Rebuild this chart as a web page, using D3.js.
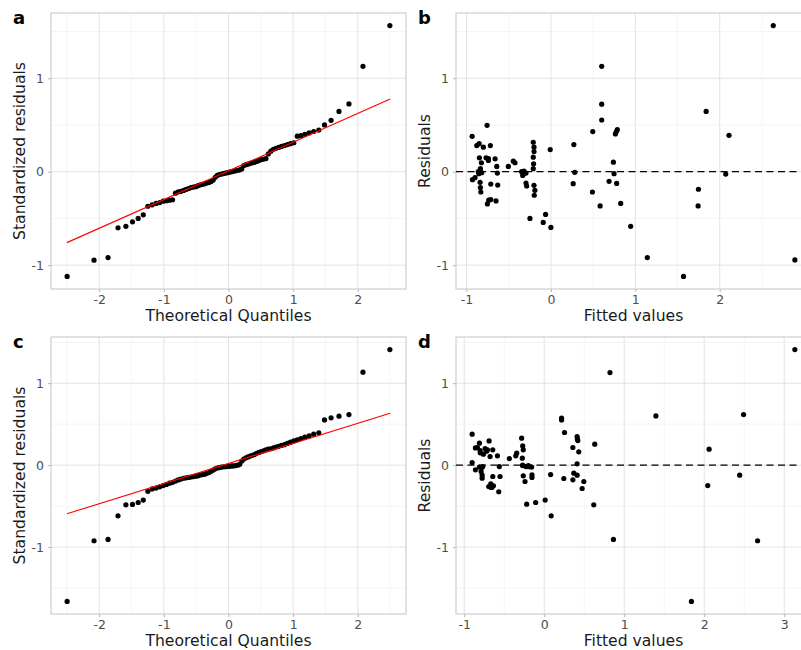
<!DOCTYPE html>
<html><head><meta charset="utf-8">
<script src="https://cdn.jsdelivr.net/npm/d3@7"></script>
<style>
html,body{margin:0;padding:0;background:#fff;overflow:hidden}
text{font-family:"DejaVu Sans",sans-serif}
</style></head>
<body><svg id="chart" width="801" height="650"></svg>
<script>
// ---------- DATA ----------
const qqX = [-2.496,-2.080,-1.863,-1.709,-1.587,-1.485,-1.397,-1.318,-1.247,-1.181,-1.120,-1.064,-1.010,-0.959,-0.911,-0.865,-0.820,-0.777,-0.735,-0.694,-0.655,-0.616,-0.579,-0.542,-0.506,-0.471,-0.436,-0.402,-0.368,-0.335,-0.302,-0.270,-0.237,-0.205,-0.174,-0.142,-0.110,-0.078,-0.047,-0.016,
0.016,0.047,0.078,0.110,0.142,0.174,0.205,0.237,0.270,0.302,0.335,0.368,0.402,0.436,0.471,0.506,0.542,0.579,0.616,0.655,0.694,0.735,0.777,0.820,0.865,0.911,0.959,1.010,1.064,1.120,1.181,1.247,1.318,1.397,1.485,1.587,1.709,1.863,2.080,2.496];

const residA = [-1.121,-0.947,-0.919,-0.60,-0.585,-0.536,-0.50,-0.462,-0.37,-0.355,
-0.34,-0.33,-0.315,-0.31,-0.305,-0.30,-0.23,-0.215,-0.21,-0.20,
-0.19,-0.18,-0.17,-0.165,-0.16,-0.15,-0.14,-0.135,-0.13,-0.12,
-0.115,-0.105,-0.09,-0.06,-0.04,-0.03,-0.025,-0.02,-0.015,-0.01,
-0.005,0.0,0.005,0.01,0.015,0.02,0.03,0.065,0.075,0.08,
0.09,0.095,0.10,0.11,0.12,0.13,0.135,0.14,0.19,0.22,
0.24,0.25,0.26,0.27,0.28,0.29,0.30,0.31,0.38,0.385,
0.40,0.415,0.43,0.445,0.50,0.55,0.645,0.725,1.128,1.564];

const lineAx = [-2.5, 2.5];
const lineAy = [-0.759, 0.777];

const residC = [-1.663,-0.923,-0.907,-0.618,-0.484,-0.48,-0.456,-0.427,-0.32,-0.29,
-0.28,-0.265,-0.25,-0.235,-0.22,-0.21,-0.195,-0.18,-0.17,-0.16,
-0.155,-0.15,-0.145,-0.14,-0.135,-0.13,-0.12,-0.115,-0.11,-0.10,
-0.09,-0.075,-0.06,-0.045,-0.035,-0.03,-0.025,-0.02,-0.02,-0.015,
-0.015,-0.01,-0.01,-0.005,0.0,0.01,0.05,0.075,0.09,0.10,
0.11,0.12,0.13,0.145,0.155,0.165,0.175,0.185,0.195,0.20,
0.21,0.22,0.23,0.24,0.25,0.265,0.28,0.295,0.31,0.325,
0.341,0.357,0.378,0.394,0.552,0.577,0.597,0.617,1.134,1.41];

const lineCx = [-2.5, 2.5];
const lineCy = [-0.594, 0.634];

const fittedB = [-0.933,-0.929,-0.898,-0.878,-0.85,-0.847,-0.854,-0.835,-0.823,-0.839,
-0.835,-0.83,-0.82,-0.80,-0.768,-0.756,-0.74,-0.717,-0.752,-0.736,
-0.712,-0.712,-0.661,-0.65,-0.641,-0.634,-0.63,-0.504,-0.445,-0.425,
-0.346,-0.334,-0.319,-0.295,-0.295,-0.287,-0.248,-0.209,-0.20,-0.20,
-0.209,-0.205,-0.209,-0.20,-0.19,-0.197,-0.091,-0.063,0.0,-0.008,
0.272,0.264,0.283,0.496,0.492,0.583,0.602,0.602,0.602,0.74,
0.748,0.689,0.764,0.787,0.776,0.779,0.827,0.945,1.142,1.571,
1.744,1.748,1.839,2.071,2.11,2.634,2.89,-0.86,-0.74,-0.32];
const residB = [0.379,-0.085,-0.064,0.28,0.30,0.149,-0.021,0.032,0.096,-0.114,
-0.17,-0.217,-0.01,0.262,0.149,0.496,0.12,0.28,-0.345,-0.305,
-0.298,-0.132,0.138,-0.313,0.056,-0.015,-0.143,0.056,0.113,0.096,
0.0,-0.04,0.006,-0.015,-0.121,-0.153,-0.50,0.315,0.262,0.216,
0.155,0.085,0.032,-0.146,-0.199,-0.252,-0.543,-0.457,-0.596,0.237,
0.29,-0.128,-0.007,0.429,-0.217,-0.366,1.128,0.723,0.553,0.102,
-0.021,-0.103,0.404,0.45,0.43,-0.125,-0.34,-0.585,-0.919,-1.121,
-0.366,-0.188,0.645,-0.025,0.389,1.564,-0.944,0.0,0.14,-0.02];

const fittedD = [-0.901,-0.901,-0.86,-0.835,-0.81,-0.801,-0.81,-0.789,-0.776,-0.776,
-0.76,-0.768,-0.739,-0.71,-0.689,-0.677,-0.693,-0.668,-0.655,-0.643,
-0.643,-0.635,-0.585,-0.568,-0.561,-0.552,-0.436,-0.356,-0.344,-0.282,
-0.269,-0.262,-0.274,-0.269,-0.262,-0.24,-0.219,-0.228,-0.199,-0.157,
-0.153,-0.153,-0.107,0.012,0.08,0.087,0.217,0.217,0.254,0.245,
0.358,0.358,0.37,0.411,0.415,0.411,0.411,0.432,0.474,0.495,
0.619,0.632,0.822,0.865,1.396,1.84,2.044,2.061,2.443,2.492,2.667,3.133,
-0.78,-0.67,-0.80,-0.27,-0.19,-0.72,0.42,-0.86];
const residD = [0.378,0.032,-0.057,0.215,0.268,0.178,-0.024,-0.078,-0.122,-0.159,
0.134,-0.017,0.202,0.187,0.296,0.105,-0.261,-0.228,-0.273,0.187,
-0.139,-0.252,0.113,-0.325,-0.017,-0.139,0.08,0.113,0.146,0.329,
0.235,0.187,0.085,-0.005,-0.13,-0.2,-0.476,-0.017,-0.005,-0.024,
-0.118,-0.15,-0.456,-0.427,-0.115,-0.618,0.573,0.552,0.398,-0.163,
0.215,-0.179,-0.098,0.349,0.32,0.016,-0.122,0.162,-0.285,-0.2,
-0.484,0.256,1.13,-0.907,0.601,-1.663,-0.249,0.195,-0.122,0.617,-0.923,1.41,
-0.03,-0.27,0.15,0.0,-0.02,0.17,0.30,0.21];

const ticksQQx = [-2,-1,0,1,2];
const ticksY = [-1,0,1];
const ticksBx = [-1,0,1,2];
const ticksDx = [-1,0,1,2,3];

const labels = {a:"a",b:"b",c:"c",d:"d"};
const titleQQx = "Theoretical Quantiles";
const titleQQy = "Standardized residuals";
const titleFx = "Fitted values";
const titleFy = "Residuals";

// ---------- DRAW ----------
const svg = d3.select("#chart");

function expand(ext){ const r = ext[1]-ext[0]; return [ext[0]-0.05*r, ext[1]+0.05*r]; }

function panel(opt){
  const {left, top, w, h, xs, ys, xTicks, yTicks, tag, xTitle, yTitle} = opt;
  const g = svg.append("g");
  const x = d3.scaleLinear().domain(expand(d3.extent(xs))).range([left, left+w]);
  const y = d3.scaleLinear().domain(expand(d3.extent(ys))).range([top+h, top]);
  const [x0,x1] = x.domain(), [y0,y1] = y.domain();
  const minorX = [], minorY = [];
  xTicks.concat([xTicks[0]-1]).forEach(t=>{ const m=t+0.5; if(m>x0 && m<x1) minorX.push(m); });
  yTicks.concat([yTicks[0]-1]).forEach(t=>{ const m=t+0.5; if(m>y0 && m<y1) minorY.push(m); });
  // minor grid
  g.selectAll(".mx").data(minorX).join("line").attr("x1",d=>x(d)).attr("x2",d=>x(d))
    .attr("y1",top).attr("y2",top+h).attr("stroke","#f0f0f0").attr("stroke-width",0.7);
  g.selectAll(".my").data(minorY).join("line").attr("y1",d=>y(d)).attr("y2",d=>y(d))
    .attr("x1",left).attr("x2",left+w).attr("stroke","#f0f0f0").attr("stroke-width",0.7);
  // major grid
  g.selectAll(".gx").data(xTicks).join("line").attr("x1",d=>x(d)).attr("x2",d=>x(d))
    .attr("y1",top).attr("y2",top+h).attr("stroke","#e3e3e3").attr("stroke-width",1);
  g.selectAll(".gy").data(yTicks).join("line").attr("y1",d=>y(d)).attr("y2",d=>y(d))
    .attr("x1",left).attr("x2",left+w).attr("stroke","#e3e3e3").attr("stroke-width",1);
  // axes
  const fmt = d => String(d);
  const ax = g.append("g").attr("transform",`translate(0,${top+h})`)
    .call(d3.axisBottom(x).tickValues(xTicks).tickFormat(fmt).tickSize(3).tickPadding(3));
  const ay = g.append("g").attr("transform",`translate(${left},0)`)
    .call(d3.axisLeft(y).tickValues(yTicks).tickFormat(fmt).tickSize(3).tickPadding(4));
  [ax,ay].forEach(a=>{
    a.select(".domain").remove();
    a.selectAll("line").attr("stroke","#b3b3b3");
    a.selectAll("text").attr("fill","#4d4d4d").style("font-size","12.5px").style("font-family","DejaVu Sans");
  });
  // border
  g.append("rect").attr("x",left).attr("y",top).attr("width",w).attr("height",h)
    .attr("fill","none").attr("stroke","#c4c4c4").attr("stroke-width",1);
  return {g,x,y};
}

function titles(left, top, w, h, tag, xTitle, yTitle){
  svg.append("text").attr("x",left-38).attr("y",top+10.5).text(tag)
    .style("font-size","18px").style("font-weight","bold").attr("fill","#000");
  svg.append("text").attr("x",left+w/2).attr("y",top+h+32).attr("text-anchor","middle")
    .text(xTitle).style("font-size","15.6px").attr("fill","#1a1a1a");
  svg.append("text").attr("transform",`translate(${left-26},${top+h/2}) rotate(-90)`)
    .attr("text-anchor","middle").text(yTitle).style("font-size","15.6px").attr("fill","#1a1a1a");
}

const W = 355, H1 = 276, H2 = 277;
const L1 = 51, L2 = 456, T1 = 13, T2 = 337;

function qqPanel(left, top, h, resid, lx, ly, tag){
  const p = panel({left, top, w:W, h, xs:qqX, ys:resid, xTicks:ticksQQx, yTicks:ticksY});
  p.g.selectAll(".pt").data(qqX.map((q,i)=>[q,resid[i]])).join("circle")
    .attr("cx",d=>p.x(d[0])).attr("cy",d=>p.y(d[1])).attr("r",2.6).attr("fill","#000");
  p.g.append("line").attr("x1",p.x(lx[0])).attr("x2",p.x(lx[1]))
    .attr("y1",p.y(ly[0])).attr("y2",p.y(ly[1])).attr("stroke","#ff0000").attr("stroke-width",1.1);
  titles(left, top, W, h, tag, titleQQx, titleQQy);
}
function rvfPanel(left, top, h, fitted, resid, tag){
  const p = panel({left, top, w:W, h, xs:fitted, ys:resid, xTicks:(tag==="b"?ticksBx:ticksDx), yTicks:ticksY});
  p.g.selectAll(".pt").data(fitted.map((f,i)=>[f,resid[i]])).join("circle")
    .attr("cx",d=>p.x(d[0])).attr("cy",d=>p.y(d[1])).attr("r",2.6).attr("fill","#000");
  p.g.append("line").attr("x1",left).attr("x2",left+W)
    .attr("y1",p.y(0)).attr("y2",p.y(0)).attr("stroke","#000").attr("stroke-width",1.3)
    .attr("stroke-dasharray","7,4.5");
  titles(left, top, W, h, tag, titleFx, titleFy);
}

qqPanel(L1, T1, H1, residA, lineAx, lineAy, labels.a);
rvfPanel(L2, T1, H1, fittedB, residB, labels.b);
qqPanel(L1, T2, H2, residC, lineCx, lineCy, labels.c);
rvfPanel(L2, T2, H2, fittedD, residD, labels.d);
</script></body></html>
